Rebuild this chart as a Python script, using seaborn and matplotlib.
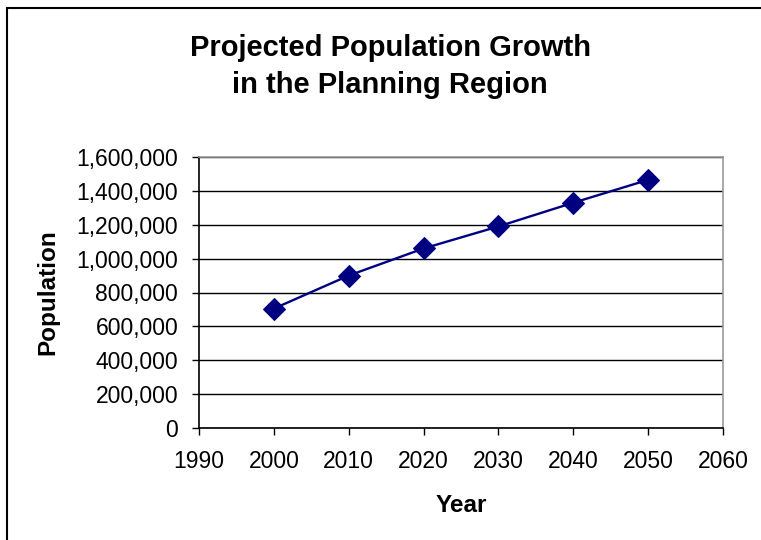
import matplotlib
matplotlib.use("Agg")
import matplotlib.pyplot as plt
from matplotlib.patches import Rectangle
from matplotlib.ticker import FuncFormatter, MultipleLocator
import pandas as pd
import seaborn as sns

# Projected population by decade
years = [2000, 2010, 2020, 2030, 2040, 2050]
population = [705000, 900000, 1060000, 1190000, 1330000, 1465000]

title_lines = ["Projected Population Growth", "in the Planning Region"]
x_label = "Year"
y_label = "Population"

sns.set_style("white")
plt.rcParams["font.family"] = ["Liberation Sans", "DejaVu Sans"]
plt.rcParams.update({"text.color": "black", "axes.labelcolor": "black",
                     "xtick.color": "black", "ytick.color": "black"})

df = pd.DataFrame({"Year": years, "Population": population})

W, H = 761, 540
fig = plt.figure(figsize=(W / 100, H / 100), dpi=100)
ax = fig.add_axes([199 / W, 1 - 428 / H, (723 - 199) / W, (428 - 157) / H])

sns.lineplot(data=df, x="Year", y="Population", ax=ax, color="#000080",
             marker="D", markersize=11, markeredgecolor="#000080",
             linewidth=1.7, zorder=3)

ax.set_xlim(1990, 2060)
ax.set_ylim(0, 1600000)
ax.xaxis.set_major_locator(MultipleLocator(10))
ax.yaxis.set_major_locator(MultipleLocator(200000))
ax.yaxis.set_major_formatter(FuncFormatter(lambda v, p: f"{int(v):,}"))

ax.grid(axis="y", color="black", linewidth=1.0)
ax.set_axisbelow(True)
for side in ("left", "bottom"):
    ax.spines[side].set_color("black")
    ax.spines[side].set_linewidth(1.2)
for side in ("top", "right"):
    ax.spines[side].set_visible(True)
    ax.spines[side].set_color("#999999")
    ax.spines[side].set_linewidth(1.2)

ax.tick_params(axis="both", direction="out", length=5, width=1, color="black",
               labelsize=16.5, left=True, bottom=True)
ax.tick_params(axis="x", pad=11)
ax.tick_params(axis="y", pad=10)

ax.set_xlabel(x_label, fontsize=17.5, fontweight="bold", va="center")
ax.xaxis.set_label_coords(0.5, (428 - 505) / 271)
ax.set_ylabel(y_label, fontsize=17.5, fontweight="bold", va="center")
ax.yaxis.set_label_coords((48 - 199) / 524, 0.5)

for line, base in zip(title_lines, (56, 93)):
    fig.text(390 / W, 1 - base / H, line, ha="center", va="baseline",
             fontsize=21, fontweight="bold")

# Chart area border
fig.add_artist(Rectangle((7 / W, -0.05), 1.2, 1 - 8 / H + 0.05,
                         transform=fig.transFigure, fill=False,
                         edgecolor="black", linewidth=1.5))

fig.savefig("out.png", dpi=100)
